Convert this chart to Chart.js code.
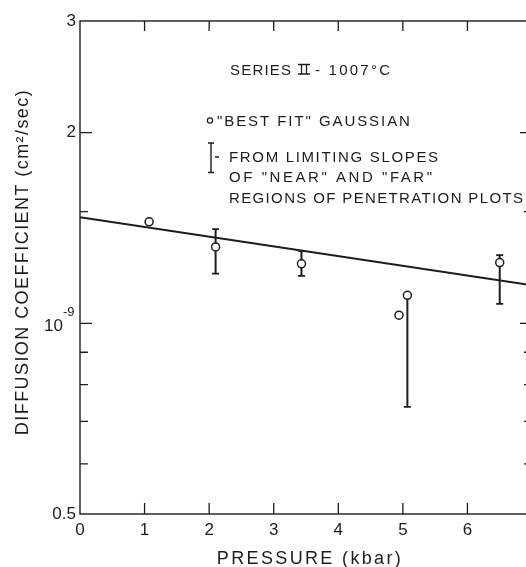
<!DOCTYPE html>
<html>
<head>
<meta charset="utf-8">
<script src="https://cdn.jsdelivr.net/npm/chart.js@4.4.1/dist/chart.umd.min.js"></script>
<style>
    html, body { margin: 0; padding: 0; background: #fff; overflow: hidden; }
    canvas { display: block; }
</style>
</head>
<body>
<canvas id="diffChart" width="544" height="567"></canvas>
<script>
// Series II - 1007 C, diffusion coefficient (x 10^-9 cm2/sec) vs pressure (kbar)
const gaussX = [1.07, 2.1, 3.43, 4.94, 5.07, 6.5];
const gaussD = [1.446, 1.32, 1.241, 1.03, 1.107, 1.247];

// limiting slope ranges
const slopeX = [2.1, 3.43, 5.07, 6.5];
const slopeLow = [1.198, 1.188, 0.738, 1.073];
const slopeHigh = [1.408, 1.301, 1.107, 1.281];

// fitted line
const fitX = [0, 7];
const fitD = [1.47, 1.148];

const xTicks = [0, 1, 2, 3, 4, 5, 6, 7];
const yTicks = [0.5, 1, 2, 3];
const yMinor = [0.6, 0.7, 0.8, 0.9, 1.5];

const ink = '#1c1c1c';
const font = 'Liberation Sans, Arial, sans-serif';

// draw text stretched to a given width with letter spacing
function spacedText(ctx, text, x, y, width, size) {
    ctx.font = size + 'px ' + font;
    ctx.letterSpacing = '0px';
    const w = ctx.measureText(text).width;
    const sp = (width - w) / Math.max(text.length - 1, 1);
    ctx.letterSpacing = sp.toFixed(2) + 'px';
    ctx.fillText(text, x, y);
    ctx.letterSpacing = '0px';
}

const decor = {
    id: 'decor',
    beforeDatasetsDraw(chart) {
        const { ctx, scales: { x, y } } = chart;
        ctx.save();
        ctx.strokeStyle = ink;
        slopeX.forEach((v, i) => {
            const px = x.getPixelForValue(v);
            const lo = y.getPixelForValue(slopeLow[i]);
            const hi = y.getPixelForValue(slopeHigh[i]);
            ctx.lineWidth = 2;
            ctx.beginPath();
            ctx.moveTo(px, lo);
            ctx.lineTo(px, hi);
            ctx.stroke();
            ctx.lineWidth = 1.6;
            ctx.beginPath();
            ctx.moveTo(px - 3.5, lo); ctx.lineTo(px + 3.5, lo);
            ctx.moveTo(px - 3.5, hi); ctx.lineTo(px + 3.5, hi);
            ctx.stroke();
        });
        ctx.restore();
    },
    afterDraw(chart) {
        const { ctx, chartArea: a, scales: { x, y } } = chart;
        ctx.save();
        ctx.strokeStyle = ink;
        ctx.fillStyle = ink;

        // frame
        ctx.lineWidth = 1.4;
        ctx.strokeRect(a.left, a.top, a.right - a.left, a.bottom - a.top);

        // inward ticks
        ctx.lineWidth = 1.3;
        ctx.beginPath();
        xTicks.slice(1, -1).forEach(v => {
            const px = x.getPixelForValue(v);
            ctx.moveTo(px, a.bottom); ctx.lineTo(px, a.bottom - 11);
            ctx.moveTo(px, a.top); ctx.lineTo(px, a.top + 10);
        });
        [1, 2].forEach(v => {
            const py = y.getPixelForValue(v);
            ctx.moveTo(a.left, py); ctx.lineTo(a.left + 12, py);
            ctx.moveTo(a.right, py); ctx.lineTo(a.right - 12, py);
        });
        yMinor.forEach(v => {
            const py = y.getPixelForValue(v);
            ctx.moveTo(a.left, py); ctx.lineTo(a.left + 8, py);
            ctx.moveTo(a.right, py); ctx.lineTo(a.right - 8, py);
        });
        ctx.stroke();

        // 10^-9 label
        const p1 = y.getPixelForValue(1);
        ctx.textBaseline = 'alphabetic';
        ctx.textAlign = 'right';
        ctx.font = '17px ' + font;
        ctx.fillText('10', 63, p1 + 8);
        ctx.textAlign = 'left';
        ctx.font = '13px ' + font;
        ctx.fillText('-9', 63, p1 - 7);

        // axis titles
        ctx.textAlign = 'center';
        spacedText(ctx, 'PRESSURE (kbar)', 310, 564, 184, 18);
        ctx.save();
        ctx.translate(28, 262);
        ctx.rotate(-Math.PI / 2);
        spacedText(ctx, 'DIFFUSION COEFFICIENT (cm\u00b2/sec)', 0, 0, 345, 18);
        ctx.restore();

        // legend block
        ctx.textAlign = 'left';
        spacedText(ctx, 'SERIES', 230, 74.5, 61, 15);
        spacedText(ctx, '- 1007\u00b0C', 315, 74.5, 75, 15);
        // roman numeral II
        ctx.lineWidth = 1.3;
        ctx.beginPath();
        ctx.moveTo(298, 64.5); ctx.lineTo(310, 64.5);
        ctx.moveTo(298, 74); ctx.lineTo(310, 74);
        ctx.moveTo(301.5, 64.5); ctx.lineTo(301.5, 74);
        ctx.moveTo(306.5, 64.5); ctx.lineTo(306.5, 74);
        ctx.stroke();

        spacedText(ctx, '"BEST FIT" GAUSSIAN', 217, 126, 193, 15);
        spacedText(ctx, 'FROM LIMITING SLOPES', 229, 161.5, 209, 15);
        spacedText(ctx, 'OF "NEAR" AND "FAR"', 229, 181.5, 203, 15);
        spacedText(ctx, 'REGIONS OF PENETRATION PLOTS', 229, 202.5, 294, 15);

        ctx.lineWidth = 1.2;
        ctx.beginPath();
        ctx.arc(210, 120.5, 2.6, 0, Math.PI * 2);
        ctx.stroke();

        ctx.lineWidth = 1.4;
        ctx.beginPath();
        ctx.moveTo(211, 143); ctx.lineTo(211, 172.5);
        ctx.moveTo(208, 143); ctx.lineTo(214, 143);
        ctx.moveTo(208, 172.5); ctx.lineTo(214, 172.5);
        ctx.moveTo(215, 157); ctx.lineTo(219, 157);
        ctx.stroke();

        ctx.restore();
    }
};

const canvas = document.getElementById('diffChart');
new Chart(canvas, {
    type: 'scatter',
    data: {
        datasets: [
            {
                type: 'line',
                label: 'fit',
                data: fitX.map((v, i) => ({ x: v, y: fitD[i] })),
                borderColor: ink,
                borderWidth: 2,
                pointRadius: 0,
                fill: false,
                order: 2
            },
            {
                label: 'best fit gaussian',
                data: gaussX.map((v, i) => ({ x: v, y: gaussD[i] })),
                pointStyle: 'circle',
                pointRadius: 4,
                pointBackgroundColor: '#fff',
                pointBorderColor: ink,
                pointBorderWidth: 1.5,
                order: 1
            }
        ]
    },
    options: {
        responsive: false,
        animation: false,
        layout: { padding: { top: 21, right: 12, left: 0, bottom: 0 } },
        plugins: {
            legend: { display: false },
            tooltip: { enabled: false }
        },
        scales: {
            x: {
                type: 'linear',
                min: 0,
                max: 7,
                afterBuildTicks: s => { s.ticks = xTicks.map(v => ({ value: v })); },
                afterFit: s => { s.height = 53; },
                grid: { display: false, drawTicks: false },
                border: { display: false },
                ticks: {
                    padding: 6,
                    color: ink,
                    font: { family: font, size: 17 },
                    maxRotation: 0
                }
            },
            y: {
                type: 'logarithmic',
                min: 0.5,
                max: 3,
                afterBuildTicks: s => { s.ticks = yTicks.map(v => ({ value: v })); },
                afterFit: s => { s.width = 80; },
                grid: { display: false, drawTicks: false },
                border: { display: false },
                ticks: {
                    padding: 4,
                    color: ink,
                    font: { family: font, size: 17 },
                    callback: v => (v === 1 ? '' : String(v))
                }
            }
        }
    },
    plugins: [decor]
});
</script>
</body>
</html>
